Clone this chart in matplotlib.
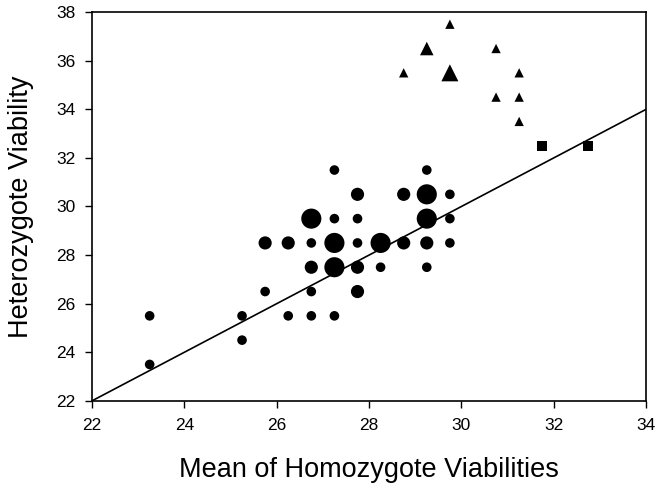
import matplotlib
matplotlib.use("Agg")
import matplotlib.pyplot as plt

plt.rcParams['font.family'] = ['Liberation Sans', 'DejaVu Sans']

# circles: mean of homozygote viabilities, heterozygote viability, count class
circ_x = [23.25, 23.25, 25.25, 25.25, 25.75, 25.75, 26.25, 26.25,
          26.75, 26.75, 26.75, 26.75, 26.75,
          27.25, 27.25, 27.25, 27.25, 27.25,
          27.75, 27.75, 27.75, 27.75, 27.75,
          28.25, 28.25, 28.75, 28.75,
          29.25, 29.25, 29.25, 29.25, 29.25,
          29.75, 29.75, 29.75]
circ_y = [25.5, 23.5, 25.5, 24.5, 26.5, 28.5, 28.5, 25.5,
          29.5, 28.5, 27.5, 26.5, 25.5,
          31.5, 29.5, 28.5, 27.5, 25.5,
          30.5, 29.5, 28.5, 27.5, 26.5,
          28.5, 27.5, 30.5, 28.5,
          31.5, 30.5, 29.5, 28.5, 27.5,
          30.5, 29.5, 28.5]
circ_n = [1, 1, 1, 1, 1, 2, 2, 1,
          3, 1, 2, 1, 1,
          1, 1, 3, 3, 1,
          2, 1, 1, 2, 2,
          3, 1, 2, 2,
          1, 3, 3, 2, 1,
          1, 1, 1]

tri_x = [29.75, 29.25, 30.75, 28.75, 29.75, 31.25, 30.75, 31.25, 31.25]
tri_y = [37.5, 36.5, 36.5, 35.5, 35.5, 35.5, 34.5, 34.5, 33.5]
tri_n = [1, 2, 1, 1, 3, 1, 1, 1, 1]

sq_x = [31.75, 32.75]
sq_y = [32.5, 32.5]

line_x = [22, 34]
line_y = [22, 34]

circ_area = {1: 48, 2: 90, 3: 210}
tri_area = {1: 45, 2: 95, 3: 150}

fig = plt.figure(figsize=(6.71, 4.83), dpi=100)
ax = fig.add_axes([0.137, 0.170, 0.826, 0.805])

ax.plot(line_x, line_y, color='black', lw=1.2, zorder=1)
ax.scatter(circ_x, circ_y, s=[circ_area[n] for n in circ_n], c='black',
           marker='o', linewidths=0, zorder=2)
ax.scatter(tri_x, tri_y, s=[tri_area[n] for n in tri_n], c='black',
           marker='^', linewidths=0, zorder=2)
ax.scatter(sq_x, sq_y, s=50, c='black', marker='s', linewidths=0, zorder=2)

ax.set_xlim(22, 34)
ax.set_ylim(22, 38)
ax.set_xticks(range(22, 35, 2))
ax.set_yticks(range(22, 39, 2))
ax.tick_params(direction='out', length=5, width=1, labelsize=12.5,
               colors='black', pad=7)
for sp in ax.spines.values():
    sp.set_linewidth(1.2)

ax.set_xlabel('Mean of Homozygote Viabilities', fontsize=19.5)
ax.set_ylabel('Heterozygote Viability', fontsize=19.5)
ax.xaxis.set_label_coords(0.5, -0.145)
ax.yaxis.set_label_coords(-0.104, 0.5)

fig.savefig('out.png', dpi=100)
